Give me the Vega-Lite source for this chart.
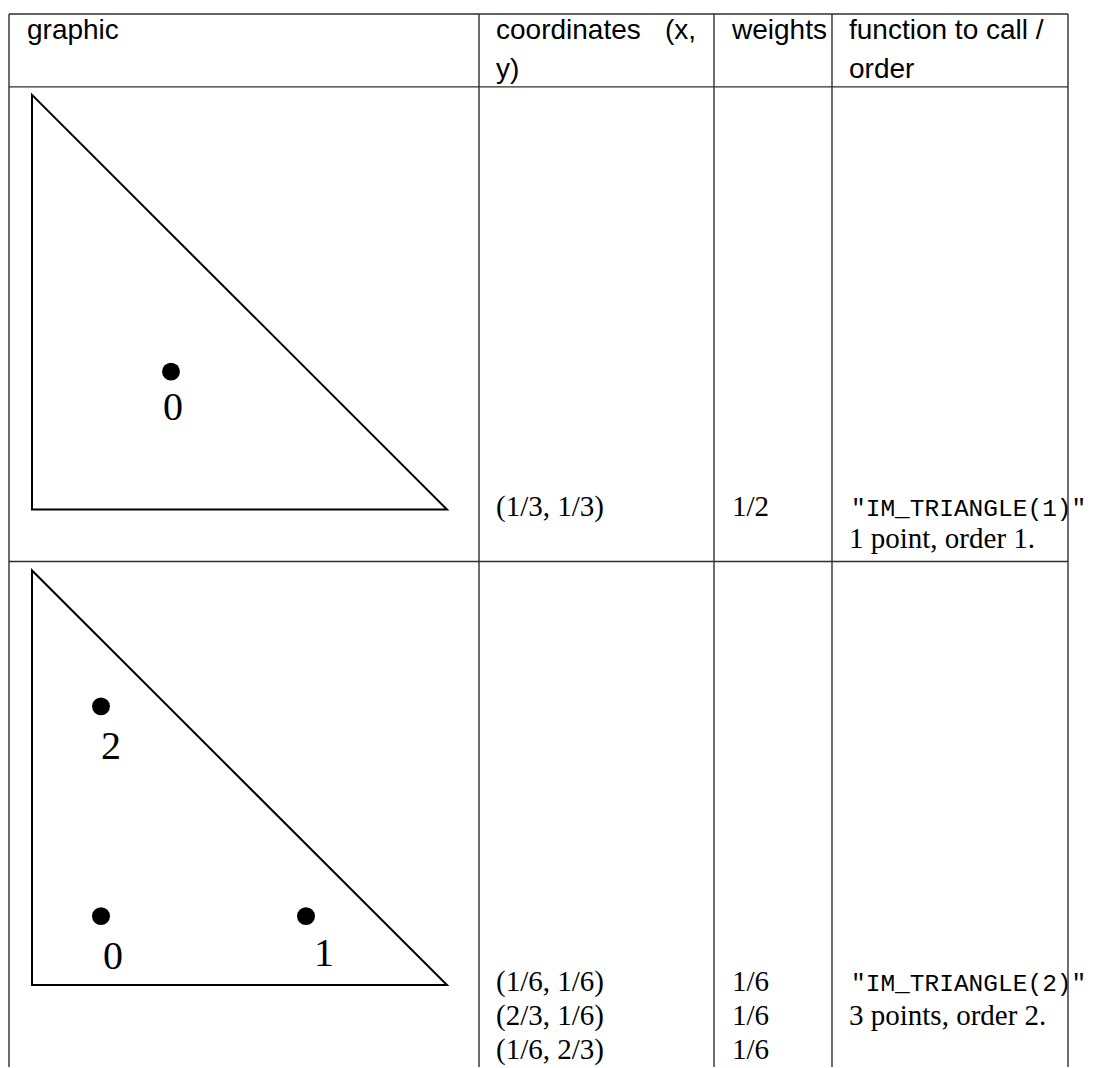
{
  "$schema": "https://vega.github.io/schema/vega-lite/v6.json",
  "width": 1093,
  "height": 1068,
  "padding": 0,
  "autosize": {"type": "fit", "contains": "padding"},
  "background": "white",
  "config": {"view": {"stroke": null}},
  "datasets": {
    "grid": [
      {"x1": 9, "y1": 14, "x2": 1068, "y2": 14},
      {"x1": 9, "y1": 87, "x2": 1068, "y2": 87},
      {"x1": 9, "y1": 562, "x2": 1068, "y2": 562},
      {"x1": 9, "y1": 14, "x2": 9, "y2": 1068},
      {"x1": 479, "y1": 14, "x2": 479, "y2": 1068},
      {"x1": 714, "y1": 14, "x2": 714, "y2": 1068},
      {"x1": 832, "y1": 14, "x2": 832, "y2": 1068},
      {"x1": 1068, "y1": 14, "x2": 1068, "y2": 1068}
    ],
    "triangles": [
      {"tri": "t1", "ord": 1, "x": 32, "y": 95},
      {"tri": "t1", "ord": 2, "x": 32, "y": 510},
      {"tri": "t1", "ord": 3, "x": 447, "y": 510},
      {"tri": "t2", "ord": 1, "x": 32, "y": 571},
      {"tri": "t2", "ord": 2, "x": 32, "y": 986},
      {"tri": "t2", "ord": 3, "x": 447, "y": 986}
    ],
    "points": [
      {"x": 171, "y": 372, "label": "0", "lx": 173, "ly": 420},
      {"x": 101, "y": 707, "label": "2", "lx": 111, "ly": 760},
      {"x": 101, "y": 917, "label": "0", "lx": 113, "ly": 970},
      {"x": 306, "y": 917, "label": "1", "lx": 324, "ly": 967}
    ],
    "header": [
      {"x": 27, "y": 39, "t": "graphic"},
      {"x": 496, "y": 39, "t": "coordinates"},
      {"x": 665, "y": 39, "t": "(x,"},
      {"x": 496, "y": 78, "t": "y)"},
      {"x": 732, "y": 39, "t": "weights"},
      {"x": 849, "y": 39, "t": "function to call /"},
      {"x": 849, "y": 78, "t": "order"}
    ],
    "body": [
      {"x": 496, "y": 516, "t": "(1/3, 1/3)"},
      {"x": 732, "y": 516, "t": "1/2"},
      {"x": 849, "y": 549, "t": "1 point, order 1."},
      {"x": 496, "y": 992, "t": "(1/6, 1/6)"},
      {"x": 496, "y": 1026, "t": "(2/3, 1/6)"},
      {"x": 496, "y": 1060, "t": "(1/6, 2/3)"},
      {"x": 732, "y": 992, "t": "1/6"},
      {"x": 732, "y": 1026, "t": "1/6"},
      {"x": 732, "y": 1060, "t": "1/6"},
      {"x": 849, "y": 1026, "t": "3 points, order 2."}
    ],
    "mono": [
      {"x": 851, "y": 516, "t": "\"IM_TRIANGLE(1)\""},
      {"x": 851, "y": 992, "t": "\"IM_TRIANGLE(2)\""}
    ]
  },
  "layer": [
    {
      "data": {"name": "grid"},
      "mark": {"type": "rule", "stroke": "#2e2e2e", "strokeWidth": 1.4},
      "encoding": {
        "x": {"field": "x1", "type": "quantitative", "scale": {"domain": [0, 1093], "nice": false, "zero": false}, "axis": null},
        "y": {"field": "y1", "type": "quantitative", "scale": {"domain": [0, 1068], "nice": false, "zero": false, "reverse": true}, "axis": null},
        "x2": {"field": "x2"},
        "y2": {"field": "y2"}
      }
    },
    {
      "data": {"name": "triangles"},
      "mark": {"type": "line", "interpolate": "linear-closed", "stroke": "black", "strokeWidth": 2, "strokeJoin": "miter"},
      "encoding": {
        "x": {"field": "x", "type": "quantitative", "scale": {"domain": [0, 1093], "nice": false, "zero": false}, "axis": null},
        "y": {"field": "y", "type": "quantitative", "scale": {"domain": [0, 1068], "nice": false, "zero": false, "reverse": true}, "axis": null},
        "detail": {"field": "tri"},
        "order": {"field": "ord", "type": "quantitative"}
      }
    },
    {
      "data": {"name": "points"},
      "mark": {"type": "point", "shape": "circle", "filled": true, "fill": "black", "stroke": null, "size": 320, "opacity": 1},
      "encoding": {
        "x": {"field": "x", "type": "quantitative", "scale": {"domain": [0, 1093], "nice": false, "zero": false}, "axis": null},
        "y": {"field": "y", "type": "quantitative", "scale": {"domain": [0, 1068], "nice": false, "zero": false, "reverse": true}, "axis": null}
      }
    },
    {
      "data": {"name": "points"},
      "mark": {"type": "text", "font": "Liberation Serif", "fontSize": 40, "align": "center", "baseline": "alphabetic", "color": "black"},
      "encoding": {
        "x": {"field": "lx", "type": "quantitative", "scale": {"domain": [0, 1093], "nice": false, "zero": false}, "axis": null},
        "y": {"field": "ly", "type": "quantitative", "scale": {"domain": [0, 1068], "nice": false, "zero": false, "reverse": true}, "axis": null},
        "text": {"field": "label"}
      }
    },
    {
      "data": {"name": "header"},
      "mark": {"type": "text", "font": "Liberation Sans", "fontSize": 28, "align": "left", "baseline": "alphabetic", "color": "black"},
      "encoding": {
        "x": {"field": "x", "type": "quantitative", "scale": {"domain": [0, 1093], "nice": false, "zero": false}, "axis": null},
        "y": {"field": "y", "type": "quantitative", "scale": {"domain": [0, 1068], "nice": false, "zero": false, "reverse": true}, "axis": null},
        "text": {"field": "t"}
      }
    },
    {
      "data": {"name": "body"},
      "mark": {"type": "text", "font": "Liberation Serif", "fontSize": 29, "align": "left", "baseline": "alphabetic", "color": "black"},
      "encoding": {
        "x": {"field": "x", "type": "quantitative", "scale": {"domain": [0, 1093], "nice": false, "zero": false}, "axis": null},
        "y": {"field": "y", "type": "quantitative", "scale": {"domain": [0, 1068], "nice": false, "zero": false, "reverse": true}, "axis": null},
        "text": {"field": "t"}
      }
    },
    {
      "data": {"name": "mono"},
      "mark": {"type": "text", "font": "Liberation Mono", "fontSize": 24.5, "align": "left", "baseline": "alphabetic", "color": "black"},
      "encoding": {
        "x": {"field": "x", "type": "quantitative", "scale": {"domain": [0, 1093], "nice": false, "zero": false}, "axis": null},
        "y": {"field": "y", "type": "quantitative", "scale": {"domain": [0, 1068], "nice": false, "zero": false, "reverse": true}, "axis": null},
        "text": {"field": "t"}
      }
    }
  ]
}
